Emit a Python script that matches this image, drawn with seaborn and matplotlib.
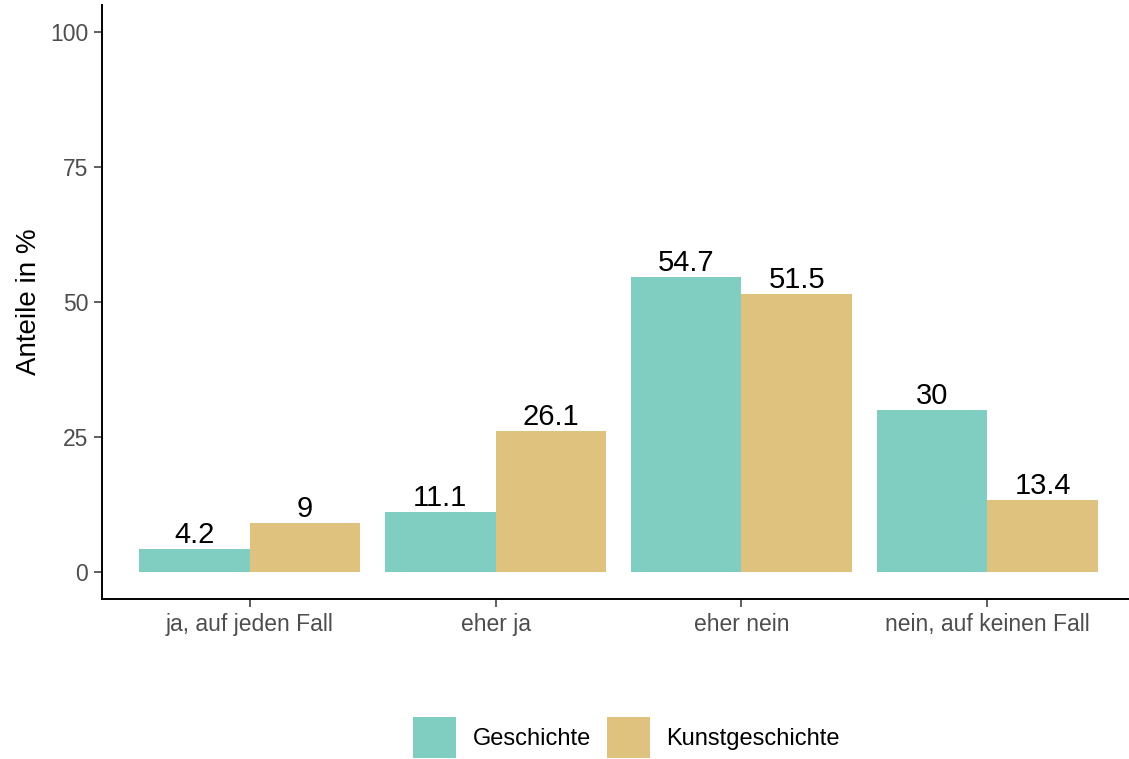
import matplotlib
matplotlib.use('Agg')
import matplotlib.pyplot as plt
import seaborn as sns
import pandas as pd

# Data
categories = ['ja, auf jeden Fall', 'eher ja', 'eher nein', 'nein, auf keinen Fall']
fach = ['Geschichte', 'Kunstgeschichte']
geschichte = [4.2, 11.1, 54.7, 30]
kunstgeschichte = [9, 26.1, 51.5, 13.4]
colors = ['#80CDC1', '#DFC27D']

df = pd.DataFrame({
    'Antwort': categories * 2,
    'Fach': [fach[0]] * 4 + [fach[1]] * 4,
    'Anteil': geschichte + kunstgeschichte,
})

sns.set_theme(style='white')
plt.rcParams['font.family'] = ['Liberation Sans', 'DejaVu Sans']

fig = plt.figure(figsize=(11.29, 7.59), dpi=100)
ax = fig.add_axes([102 / 1129, 160 / 759, 1033 / 1129, 594 / 759])

sns.barplot(data=df, x='Antwort', y='Anteil', hue='Fach', order=categories,
            hue_order=fach, palette=colors, width=0.9, gap=0, saturation=1,
            linewidth=0, ax=ax)

for cont in ax.containers:
    ax.bar_label(cont, labels=[f'{v:g}' for v in cont.datavalues],
                 padding=0, fontsize=21, color='black')

ax.set_xlim(-0.6, 3.6)
ax.set_ylim(-5, 105)
ax.set_yticks([0, 25, 50, 75, 100])
ax.set_xlabel('')
ax.set_ylabel('Anteile in %', fontsize=20, color='black', labelpad=6)

for side in ['top', 'right']:
    ax.spines[side].set_visible(False)
for side in ['left', 'bottom']:
    ax.spines[side].set_color('black')
    ax.spines[side].set_linewidth(1.4)

ax.tick_params(axis='both', which='both', length=6, width=1.1, color='#333333',
               labelsize=16.5, labelcolor='#4D4D4D', direction='out',
               bottom=True, left=True, pad=4)

handles, labels = ax.get_legend_handles_labels()
ax.get_legend().remove()
leg = fig.legend(handles, labels, loc='center', bbox_to_anchor=(0.555, 0.028),
                 ncol=2, frameon=False, fontsize=17, handlelength=1.8,
                 handleheight=2.3, handletextpad=0.7, columnspacing=0.7)
for t in leg.get_texts():
    t.set_color('black')

fig.savefig('out.png', dpi=100)
